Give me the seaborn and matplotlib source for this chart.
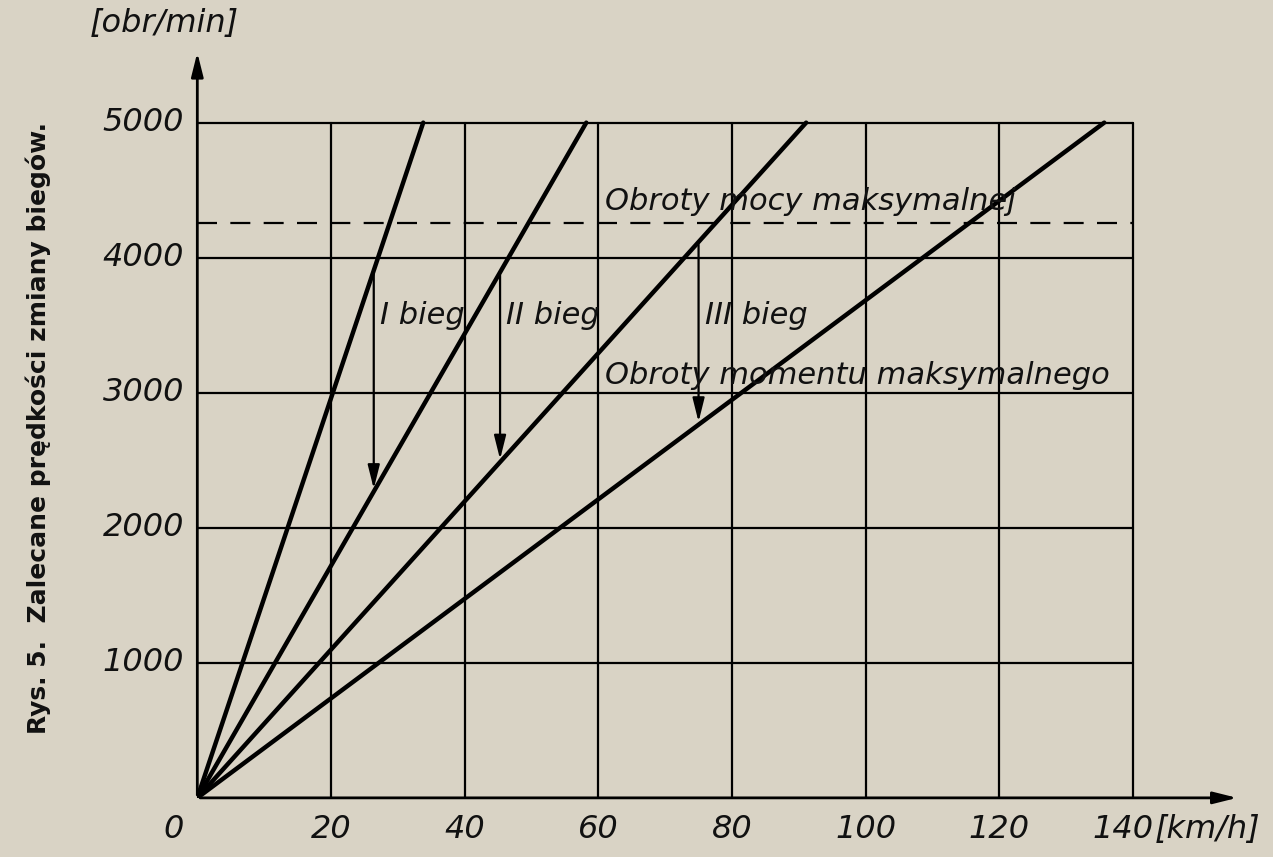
import matplotlib
matplotlib.use("Agg")
import matplotlib.pyplot as plt
import seaborn as sns
import pandas as pd

sns.set_theme(style="white")
plt.rcParams['font.family'] = ['DejaVu Sans']

gears = ["I", "II", "III", "IV"]
speed_at_5000 = [33.8, 58.2, 91.1, 135.7]   # km/h where each gear reaches 5000 rpm
rpm_max_power = 4260
arrow_speeds = [26.4, 45.3, 75.0]            # km/h of shift arrows
x_ticks = [20, 40, 60, 80, 100, 120, 140]
y_ticks = [1000, 2000, 3000, 4000, 5000]

rows = []
for g, v in zip(gears, speed_at_5000):
    rows += [dict(gear=g, speed=0, rpm=0), dict(gear=g, speed=v, rpm=5000)]
df = pd.DataFrame(rows)

bg = "#d9d3c5"
fig = plt.figure(figsize=(12.73, 8.57), dpi=100, facecolor=bg)
ax = fig.add_axes([0.155, 0.069, 0.819, 0.873], facecolor=bg)
ax.set_xlim(0, 156)
ax.set_ylim(0, 5540)

for x in x_ticks:
    ax.plot([x, x], [0, 5000], color="black", lw=1.6)
for y in y_ticks:
    ax.plot([0, 140], [y, y], color="black", lw=1.6)

sns.lineplot(data=df, x="speed", y="rpm", units="gear", estimator=None,
             color="black", lw=3.2, ax=ax, legend=False)

ax.plot([0, 140], [rpm_max_power, rpm_max_power], color="black", lw=1.6,
        dashes=(9, 6))

for i, s in enumerate(arrow_speeds):
    y0 = 5000 * s / speed_at_5000[i]
    y1 = 5000 * s / speed_at_5000[i + 1]
    ax.annotate("", xy=(s, y1), xytext=(s, y0),
                arrowprops=dict(arrowstyle="-|>,head_width=0.3,head_length=1.2",
                                color="black", lw=1.6))

tk = dict(fontsize=22, style="italic", color="#111")
ax.text(61, 4310, "Obroty mocy maksymalnej", ha="left", va="bottom", **tk)
ax.text(61, 3130, "Obroty momentu maksymalnego", ha="left", va="center", **tk)
ax.text(27.4, 3570, "I bieg", ha="left", va="center", **tk)
ax.text(46.2, 3570, "II bieg", ha="left", va="center", **tk)
ax.text(76.0, 3570, "III bieg", ha="left", va="center", **tk)

ax.set_xticks([])
ax.set_yticks([])
ax.set_xlabel("")
ax.set_ylabel("")
for s in ax.spines.values():
    s.set_visible(False)
ax.annotate("", xy=(156, 0), xytext=(0, 0),
            arrowprops=dict(arrowstyle="-|>,head_width=0.3,head_length=1.2",
                            color="black", lw=2))
ax.annotate("", xy=(0, 5540), xytext=(0, 0),
            arrowprops=dict(arrowstyle="-|>,head_width=0.3,head_length=1.2",
                            color="black", lw=2))

tl = dict(fontsize=23, style="italic", color="#111")
for x in x_ticks:
    ax.text(x - 1.5 if x == 140 else x, -120, str(x), ha="center", va="top", **tl)
ax.text(-3.5, -120, "0", ha="center", va="top", **tl)
for y in y_ticks:
    ax.text(-2, y, str(y), ha="right", va="center", **tl)
ax.text(-5, 5620, "[obr/min]", ha="center", va="bottom", **tl)
ax.text(143.3, -120, "[km/h]", ha="left", va="top", **tl)

fig.text(0.03, 0.5, "Rys. 5.  Zalecane prędkości zmiany biegów.", rotation=90,
         ha="center", va="center", fontsize=18, fontweight="bold", color="#111")

fig.savefig("out.png", dpi=100, facecolor=bg)
